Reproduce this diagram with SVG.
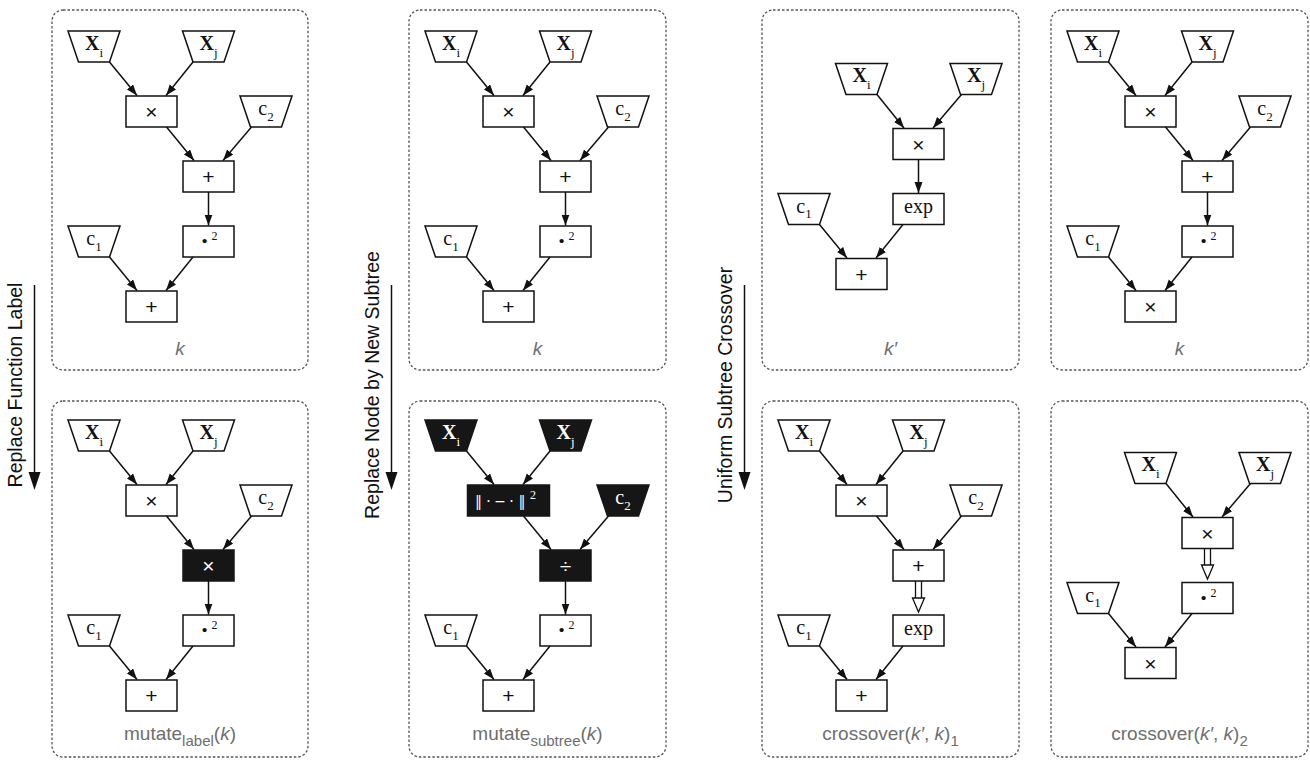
<svg xmlns="http://www.w3.org/2000/svg" width="1310" height="760" viewBox="0 0 1310 760">
  <defs>
    <style>
      .panel { fill: none; stroke: #555; stroke-width: 1.3; stroke-dasharray: 2.5 2; }
      .nd { fill: #fff; stroke: #111; stroke-width: 1.5; }
      .bk { fill: #161616; stroke: #161616; stroke-width: 1.5; }
      .e { fill: none; stroke: #111; stroke-width: 1.5; marker-end: url(#ah); }
      .dl { fill: none; stroke: #111; stroke-width: 1.3; }
      .hh { fill: #fff; stroke: #111; stroke-width: 1.3; }
      .ser { font-family: "Liberation Serif", "Times New Roman", serif; font-size: 20px; text-anchor: middle; fill: #111; }
      .op { font-family: "Liberation Sans", Arial, sans-serif; font-size: 21px; text-anchor: middle; fill: #111; }
      .nrm { font-family: "DejaVu Serif", "Liberation Serif", serif; font-size: 14px; text-anchor: middle; }
      .dot { font-size: 26px; }
      .w { fill: #fff; }
      .b { font-weight: bold; }
      .sub { font-size: 13px; }
      .sup { font-size: 12px; }
      .lbl { font-family: "Liberation Sans", Arial, sans-serif; font-size: 19px; text-anchor: middle; fill: #6e6e6e; }
      .lsub { font-size: 15px; }
      .it { font-style: italic; }
      .side { font-family: "Liberation Sans", Arial, sans-serif; font-size: 19.5px; text-anchor: middle; fill: #111; }
    </style>
    <marker id="ah" markerUnits="userSpaceOnUse" markerWidth="12" markerHeight="9" refX="11" refY="4" orient="auto">
      <path d="M0,0 L11,4 L0,8 z" fill="#111"/>
    </marker>
  </defs>

  <!-- operation captions with their arrows -->
  <g id="op-label">
    <line x1="34.5" y1="285" x2="34.5" y2="474" stroke="#111" stroke-width="1.5"/>
    <polygon points="28.5,472 40.5,472 34.5,490" fill="#111"/>
    <text class="side" transform="translate(22,385) rotate(-90)">Replace Function Label</text>
  </g>
  <g id="op-subtree">
    <line x1="391.5" y1="285" x2="391.5" y2="474" stroke="#111" stroke-width="1.5"/>
    <polygon points="385.5,472 397.5,472 391.5,490" fill="#111"/>
    <text class="side" transform="translate(379,385) rotate(-90)">Replace Node by New Subtree</text>
  </g>
  <g id="op-crossover">
    <line x1="744.5" y1="285" x2="744.5" y2="474" stroke="#111" stroke-width="1.5"/>
    <polygon points="738.5,472 750.5,472 744.5,490" fill="#111"/>
    <text class="side" transform="translate(732,385) rotate(-90)">Uniform Subtree Crossover</text>
  </g>

  <!-- ===== tree k (left, top) ===== -->
  <g id="tree-k-a" transform="translate(52,10)">
    <rect class="panel" x="0" y="0" width="256" height="360" rx="11"/>
    <g id="a-xi"><polygon class="nd" points="16,21 68,21 57.5,52 26.5,52"/><text class="ser" x="42" y="39.5"><tspan class="b">X</tspan><tspan class="sub" dy="7">i</tspan></text></g>
    <g id="a-xj"><polygon class="nd" points="130.5,21 182.5,21 172,52 141,52"/><text class="ser" x="156.5" y="39.5"><tspan class="b">X</tspan><tspan class="sub" dy="7">j</tspan></text></g>
    <g id="a-mul"><rect class="nd" x="74" y="86" width="51" height="31"/><text class="op" x="99.5" y="109">×</text></g>
    <g id="a-c2"><polygon class="nd" points="188,86 240,86 229.5,117 198.5,117"/><text class="ser" x="214" y="105">c<tspan class="sub" dy="5.5">2</tspan></text></g>
    <g id="a-add1"><rect class="nd" x="131" y="151" width="51" height="31"/><text class="op" x="156.5" y="174">+</text></g>
    <g id="a-sq"><rect class="nd" x="131" y="216" width="51" height="31"/><text class="ser b dot" x="152.5" y="239">·</text><text class="ser sup" x="162.5" y="230">2</text></g>
    <g id="a-c1"><polygon class="nd" points="16,216 68,216 57.5,247 26.5,247"/><text class="ser" x="42" y="235">c<tspan class="sub" dy="5.5">1</tspan></text></g>
    <g id="a-add2"><rect class="nd" x="74" y="281" width="51" height="31"/><text class="op" x="99.5" y="304">+</text></g>
    <g id="a-edges">
      <line class="e" x1="57.5" y1="52" x2="85" y2="85.5"/>
      <line class="e" x1="141" y1="52" x2="114" y2="85.5"/>
      <line class="e" x1="114.5" y1="117" x2="142" y2="150.5"/>
      <line class="e" x1="199.5" y1="117" x2="171" y2="150.5"/>
      <line class="e" x1="156.5" y1="182" x2="156.5" y2="215.5"/>
      <line class="e" x1="57.5" y1="247" x2="85" y2="280.5"/>
      <line class="e" x1="141" y1="247" x2="114" y2="280.5"/>
    </g>
    <text class="lbl it" x="128" y="345">k</text>
  </g>

  <!-- ===== tree k (middle, top) ===== -->
  <g id="tree-k-b" transform="translate(409,10)">
    <rect class="panel" x="0" y="0" width="257" height="360" rx="11"/>
    <g id="b-xi"><polygon class="nd" points="16,21 68,21 57.5,52 26.5,52"/><text class="ser" x="42" y="39.5"><tspan class="b">X</tspan><tspan class="sub" dy="7">i</tspan></text></g>
    <g id="b-xj"><polygon class="nd" points="130.5,21 182.5,21 172,52 141,52"/><text class="ser" x="156.5" y="39.5"><tspan class="b">X</tspan><tspan class="sub" dy="7">j</tspan></text></g>
    <g id="b-mul"><rect class="nd" x="74" y="86" width="51" height="31"/><text class="op" x="99.5" y="109">×</text></g>
    <g id="b-c2"><polygon class="nd" points="188,86 240,86 229.5,117 198.5,117"/><text class="ser" x="214" y="105">c<tspan class="sub" dy="5.5">2</tspan></text></g>
    <g id="b-add1"><rect class="nd" x="131" y="151" width="51" height="31"/><text class="op" x="156.5" y="174">+</text></g>
    <g id="b-sq"><rect class="nd" x="131" y="216" width="51" height="31"/><text class="ser b dot" x="152.5" y="239">·</text><text class="ser sup" x="162.5" y="230">2</text></g>
    <g id="b-c1"><polygon class="nd" points="16,216 68,216 57.5,247 26.5,247"/><text class="ser" x="42" y="235">c<tspan class="sub" dy="5.5">1</tspan></text></g>
    <g id="b-add2"><rect class="nd" x="74" y="281" width="51" height="31"/><text class="op" x="99.5" y="304">+</text></g>
    <g id="b-edges">
      <line class="e" x1="57.5" y1="52" x2="85" y2="85.5"/>
      <line class="e" x1="141" y1="52" x2="114" y2="85.5"/>
      <line class="e" x1="114.5" y1="117" x2="142" y2="150.5"/>
      <line class="e" x1="199.5" y1="117" x2="171" y2="150.5"/>
      <line class="e" x1="156.5" y1="182" x2="156.5" y2="215.5"/>
      <line class="e" x1="57.5" y1="247" x2="85" y2="280.5"/>
      <line class="e" x1="141" y1="247" x2="114" y2="280.5"/>
    </g>
    <text class="lbl it" x="128.5" y="345">k</text>
  </g>

  <!-- ===== tree k' ===== -->
  <g id="tree-kp" transform="translate(762,10)">
    <rect class="panel" x="0" y="0" width="257" height="360" rx="11"/>
    <g id="c-xi"><polygon class="nd" points="73.5,53.5 125.5,53.5 115,84.5 84,84.5"/><text class="ser" x="99.5" y="72"><tspan class="b">X</tspan><tspan class="sub" dy="7">i</tspan></text></g>
    <g id="c-xj"><polygon class="nd" points="188,53.5 240,53.5 229.5,84.5 198.5,84.5"/><text class="ser" x="214" y="72"><tspan class="b">X</tspan><tspan class="sub" dy="7">j</tspan></text></g>
    <g id="c-mul"><rect class="nd" x="131" y="118.5" width="51" height="31"/><text class="op" x="156.5" y="141.5">×</text></g>
    <g id="c-c1"><polygon class="nd" points="16,183.5 68,183.5 57.5,214.5 26.5,214.5"/><text class="ser" x="42" y="202.5">c<tspan class="sub" dy="5.5">1</tspan></text></g>
    <g id="c-exp"><rect class="nd" x="131" y="183.5" width="51" height="31"/><text class="ser" x="156.5" y="203">exp</text></g>
    <g id="c-add"><rect class="nd" x="74" y="248.5" width="51" height="31"/><text class="op" x="99.5" y="271.5">+</text></g>
    <g id="c-edges">
      <line class="e" x1="115" y1="84.5" x2="142" y2="118"/>
      <line class="e" x1="199.5" y1="84.5" x2="171" y2="118"/>
      <line class="e" x1="156.5" y1="149.5" x2="156.5" y2="183"/>
      <line class="e" x1="57.5" y1="214.5" x2="85" y2="248"/>
      <line class="e" x1="141" y1="214.5" x2="114" y2="248"/>
    </g>
    <text class="lbl it" x="128.5" y="345">k′</text>
  </g>

  <!-- ===== tree k (right, top) ===== -->
  <g id="tree-k-d" transform="translate(1051,10)">
    <rect class="panel" x="0" y="0" width="257" height="360" rx="11"/>
    <g id="d-xi"><polygon class="nd" points="16,21 68,21 57.5,52 26.5,52"/><text class="ser" x="42" y="39.5"><tspan class="b">X</tspan><tspan class="sub" dy="7">i</tspan></text></g>
    <g id="d-xj"><polygon class="nd" points="130.5,21 182.5,21 172,52 141,52"/><text class="ser" x="156.5" y="39.5"><tspan class="b">X</tspan><tspan class="sub" dy="7">j</tspan></text></g>
    <g id="d-mul1"><rect class="nd" x="74" y="86" width="51" height="31"/><text class="op" x="99.5" y="109">×</text></g>
    <g id="d-c2"><polygon class="nd" points="188,86 240,86 229.5,117 198.5,117"/><text class="ser" x="214" y="105">c<tspan class="sub" dy="5.5">2</tspan></text></g>
    <g id="d-add"><rect class="nd" x="131" y="151" width="51" height="31"/><text class="op" x="156.5" y="174">+</text></g>
    <g id="d-sq"><rect class="nd" x="131" y="216" width="51" height="31"/><text class="ser b dot" x="152.5" y="239">·</text><text class="ser sup" x="162.5" y="230">2</text></g>
    <g id="d-c1"><polygon class="nd" points="16,216 68,216 57.5,247 26.5,247"/><text class="ser" x="42" y="235">c<tspan class="sub" dy="5.5">1</tspan></text></g>
    <g id="d-mul2"><rect class="nd" x="74" y="281" width="51" height="31"/><text class="op" x="99.5" y="304">×</text></g>
    <g id="d-edges">
      <line class="e" x1="57.5" y1="52" x2="85" y2="85.5"/>
      <line class="e" x1="141" y1="52" x2="114" y2="85.5"/>
      <line class="e" x1="114.5" y1="117" x2="142" y2="150.5"/>
      <line class="e" x1="199.5" y1="117" x2="171" y2="150.5"/>
      <line class="e" x1="156.5" y1="182" x2="156.5" y2="215.5"/>
      <line class="e" x1="57.5" y1="247" x2="85" y2="280.5"/>
      <line class="e" x1="141" y1="247" x2="114" y2="280.5"/>
    </g>
    <text class="lbl it" x="128.5" y="345">k</text>
  </g>

  <!-- ===== mutate_label(k) ===== -->
  <g id="tree-mut-label" transform="translate(52,399)">
    <rect class="panel" x="0" y="2" width="256" height="356" rx="11"/>
    <g id="e-xi"><polygon class="nd" points="16,21 68,21 57.5,52 26.5,52"/><text class="ser" x="42" y="39.5"><tspan class="b">X</tspan><tspan class="sub" dy="7">i</tspan></text></g>
    <g id="e-xj"><polygon class="nd" points="130.5,21 182.5,21 172,52 141,52"/><text class="ser" x="156.5" y="39.5"><tspan class="b">X</tspan><tspan class="sub" dy="7">j</tspan></text></g>
    <g id="e-mul"><rect class="nd" x="74" y="86" width="51" height="31"/><text class="op" x="99.5" y="109">×</text></g>
    <g id="e-c2"><polygon class="nd" points="188,86 240,86 229.5,117 198.5,117"/><text class="ser" x="214" y="105">c<tspan class="sub" dy="5.5">2</tspan></text></g>
    <g id="e-mulnew"><rect class="bk" x="131" y="151" width="51" height="31"/><text class="op w" x="156.5" y="174">×</text></g>
    <g id="e-sq"><rect class="nd" x="131" y="216" width="51" height="31"/><text class="ser b dot" x="152.5" y="239">·</text><text class="ser sup" x="162.5" y="230">2</text></g>
    <g id="e-c1"><polygon class="nd" points="16,216 68,216 57.5,247 26.5,247"/><text class="ser" x="42" y="235">c<tspan class="sub" dy="5.5">1</tspan></text></g>
    <g id="e-add"><rect class="nd" x="74" y="281" width="51" height="31"/><text class="op" x="99.5" y="304">+</text></g>
    <g id="e-edges">
      <line class="e" x1="57.5" y1="52" x2="85" y2="85.5"/>
      <line class="e" x1="141" y1="52" x2="114" y2="85.5"/>
      <line class="e" x1="114.5" y1="117" x2="142" y2="150.5"/>
      <line class="e" x1="199.5" y1="117" x2="171" y2="150.5"/>
      <line class="e" x1="156.5" y1="182" x2="156.5" y2="215.5"/>
      <line class="e" x1="57.5" y1="247" x2="85" y2="280.5"/>
      <line class="e" x1="141" y1="247" x2="114" y2="280.5"/>
    </g>
    <text class="lbl" x="128" y="341">mutate<tspan class="lsub" dy="6">label</tspan><tspan dy="-6">(</tspan><tspan class="it">k</tspan>)</text>
  </g>

  <!-- ===== mutate_subtree(k) ===== -->
  <g id="tree-mut-subtree" transform="translate(409,399)">
    <rect class="panel" x="0" y="2" width="257" height="356" rx="11"/>
    <g id="f-xi"><polygon class="bk" points="16,21 68,21 57.5,52 26.5,52"/><text class="ser w" x="42" y="39.5"><tspan class="b">X</tspan><tspan class="sub" dy="7">i</tspan></text></g>
    <g id="f-xj"><polygon class="bk" points="130.5,21 182.5,21 172,52 141,52"/><text class="ser w" x="156.5" y="39.5"><tspan class="b">X</tspan><tspan class="sub" dy="7">j</tspan></text></g>
    <g id="f-dist"><rect class="bk" x="58.5" y="86" width="82" height="31"/>
      <text class="nrm w" x="69.5 79.5 91 102.5 113" y="107">‖·−·‖</text>
      <text class="ser sup w" x="124" y="100">2</text></g>
    <g id="f-c2"><polygon class="bk" points="188,86 240,86 229.5,117 198.5,117"/><text class="ser w" x="214" y="105">c<tspan class="sub" dy="5.5">2</tspan></text></g>
    <g id="f-div"><rect class="bk" x="131" y="151" width="51" height="31"/><text class="op w" x="156.5" y="174">÷</text></g>
    <g id="f-sq"><rect class="nd" x="131" y="216" width="51" height="31"/><text class="ser b dot" x="152.5" y="239">·</text><text class="ser sup" x="162.5" y="230">2</text></g>
    <g id="f-c1"><polygon class="nd" points="16,216 68,216 57.5,247 26.5,247"/><text class="ser" x="42" y="235">c<tspan class="sub" dy="5.5">1</tspan></text></g>
    <g id="f-add"><rect class="nd" x="74" y="281" width="51" height="31"/><text class="op" x="99.5" y="304">+</text></g>
    <g id="f-edges">
      <line class="e" x1="57.5" y1="52" x2="85" y2="85.5"/>
      <line class="e" x1="141" y1="52" x2="114" y2="85.5"/>
      <line class="e" x1="114.5" y1="117" x2="142" y2="150.5"/>
      <line class="e" x1="199.5" y1="117" x2="171" y2="150.5"/>
      <line class="e" x1="156.5" y1="182" x2="156.5" y2="215.5"/>
      <line class="e" x1="57.5" y1="247" x2="85" y2="280.5"/>
      <line class="e" x1="141" y1="247" x2="114" y2="280.5"/>
    </g>
    <text class="lbl" x="128.5" y="341">mutate<tspan class="lsub" dy="6">subtree</tspan><tspan dy="-6">(</tspan><tspan class="it">k</tspan>)</text>
  </g>

  <!-- ===== crossover(k', k)_1 ===== -->
  <g id="tree-cross-1" transform="translate(762,399)">
    <rect class="panel" x="0" y="2" width="257" height="356" rx="11"/>
    <g id="g-xi"><polygon class="nd" points="16,21 68,21 57.5,52 26.5,52"/><text class="ser" x="42" y="39.5"><tspan class="b">X</tspan><tspan class="sub" dy="7">i</tspan></text></g>
    <g id="g-xj"><polygon class="nd" points="130.5,21 182.5,21 172,52 141,52"/><text class="ser" x="156.5" y="39.5"><tspan class="b">X</tspan><tspan class="sub" dy="7">j</tspan></text></g>
    <g id="g-mul"><rect class="nd" x="74" y="86" width="51" height="31"/><text class="op" x="99.5" y="109">×</text></g>
    <g id="g-c2"><polygon class="nd" points="188,86 240,86 229.5,117 198.5,117"/><text class="ser" x="214" y="105">c<tspan class="sub" dy="5.5">2</tspan></text></g>
    <g id="g-add1"><rect class="nd" x="131" y="151" width="51" height="31"/><text class="op" x="156.5" y="174">+</text></g>
    <g id="g-exp"><rect class="nd" x="131" y="216" width="51" height="31"/><text class="ser" x="156.5" y="235.5">exp</text></g>
    <g id="g-c1"><polygon class="nd" points="16,216 68,216 57.5,247 26.5,247"/><text class="ser" x="42" y="235">c<tspan class="sub" dy="5.5">1</tspan></text></g>
    <g id="g-add2"><rect class="nd" x="74" y="281" width="51" height="31"/><text class="op" x="99.5" y="304">+</text></g>
    <g id="g-edges">
      <line class="e" x1="57.5" y1="52" x2="85" y2="85.5"/>
      <line class="e" x1="141" y1="52" x2="114" y2="85.5"/>
      <line class="e" x1="114.5" y1="117" x2="142" y2="150.5"/>
      <line class="e" x1="199.5" y1="117" x2="171" y2="150.5"/>
      <!-- grafted link: double shaft with hollow head -->
      <line class="dl" x1="153.5" y1="182" x2="153.5" y2="199"/>
      <line class="dl" x1="159.5" y1="182" x2="159.5" y2="199"/>
      <polygon class="hh" points="150.5,199 162.5,199 156.5,213"/>
      <line class="e" x1="57.5" y1="247" x2="85" y2="280.5"/>
      <line class="e" x1="141" y1="247" x2="114" y2="280.5"/>
    </g>
    <text class="lbl" x="128.5" y="341">crossover(<tspan class="it">k′</tspan>, <tspan class="it">k</tspan>)<tspan class="lsub" dy="6">1</tspan></text>
  </g>

  <!-- ===== crossover(k', k)_2 ===== -->
  <g id="tree-cross-2" transform="translate(1051,399)">
    <rect class="panel" x="0" y="2" width="257" height="356" rx="11"/>
    <g id="h-xi"><polygon class="nd" points="73.5,53.5 125.5,53.5 115,84.5 84,84.5"/><text class="ser" x="99.5" y="72"><tspan class="b">X</tspan><tspan class="sub" dy="7">i</tspan></text></g>
    <g id="h-xj"><polygon class="nd" points="188,53.5 240,53.5 229.5,84.5 198.5,84.5"/><text class="ser" x="214" y="72"><tspan class="b">X</tspan><tspan class="sub" dy="7">j</tspan></text></g>
    <g id="h-mul1"><rect class="nd" x="131" y="118.5" width="51" height="31"/><text class="op" x="156.5" y="141.5">×</text></g>
    <g id="h-c1"><polygon class="nd" points="16,183.5 68,183.5 57.5,214.5 26.5,214.5"/><text class="ser" x="42" y="202.5">c<tspan class="sub" dy="5.5">1</tspan></text></g>
    <g id="h-sq"><rect class="nd" x="131" y="183.5" width="51" height="31"/><text class="ser b dot" x="152.5" y="206.5">·</text><text class="ser sup" x="162.5" y="197.5">2</text></g>
    <g id="h-mul2"><rect class="nd" x="74" y="248.5" width="51" height="31"/><text class="op" x="99.5" y="271.5">×</text></g>
    <g id="h-edges">
      <line class="e" x1="115" y1="84.5" x2="142" y2="118"/>
      <line class="e" x1="199.5" y1="84.5" x2="171" y2="118"/>
      <line class="dl" x1="153.5" y1="149.5" x2="153.5" y2="166"/>
      <line class="dl" x1="159.5" y1="149.5" x2="159.5" y2="166"/>
      <polygon class="hh" points="150.5,166 162.5,166 156.5,180"/>
      <line class="e" x1="57.5" y1="214.5" x2="85" y2="248"/>
      <line class="e" x1="141" y1="214.5" x2="114" y2="248"/>
    </g>
    <text class="lbl" x="128.5" y="341">crossover(<tspan class="it">k′</tspan>, <tspan class="it">k</tspan>)<tspan class="lsub" dy="6">2</tspan></text>
  </g>
</svg>
